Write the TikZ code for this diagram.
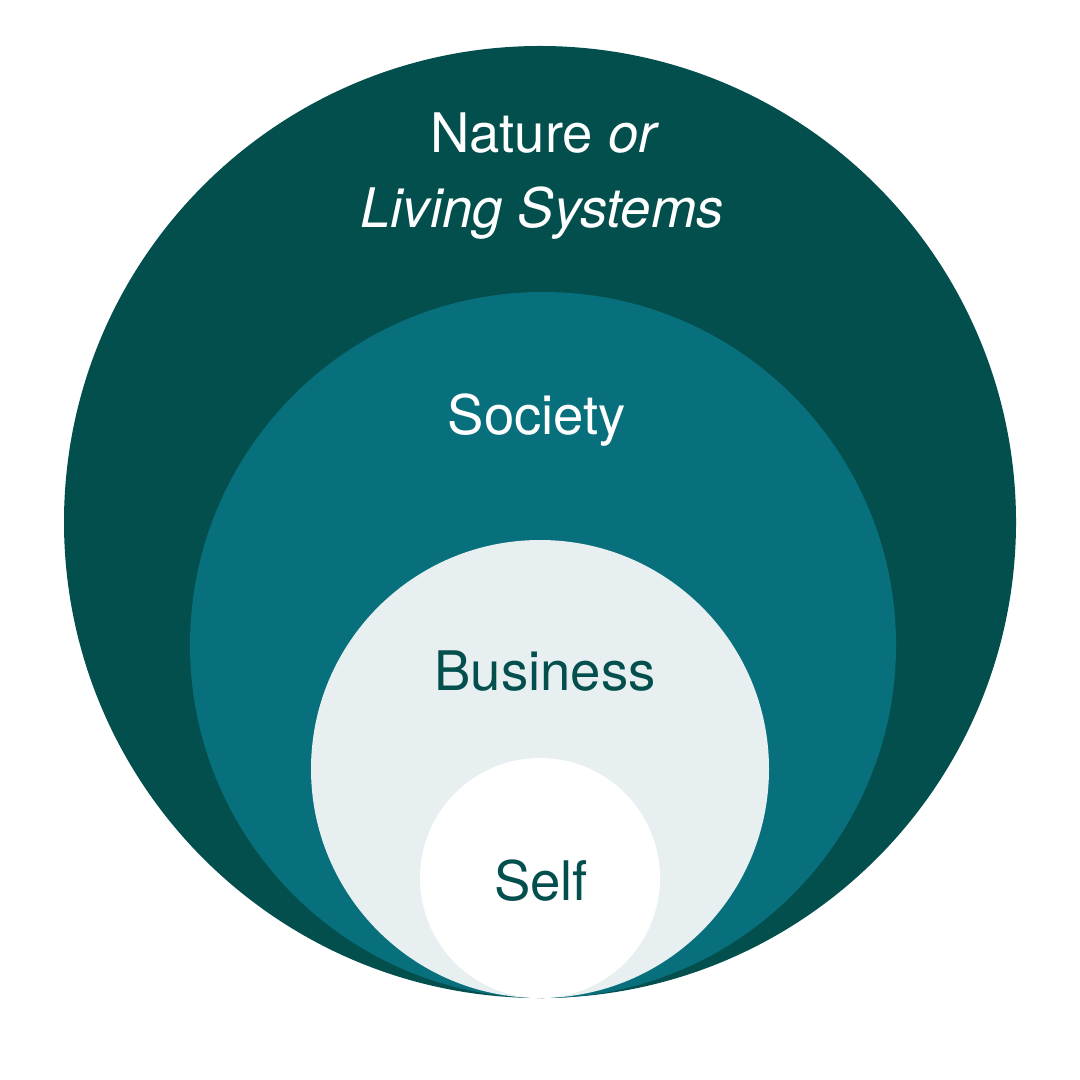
\documentclass[tikz,border=0pt]{standalone}
\usepackage{fontspec}
\setmainfont{TeX Gyre Heros}
\definecolor{naturegreen}{HTML}{024F4D}
\definecolor{societyteal}{HTML}{08707C}
\definecolor{businessgrey}{HTML}{E8EFF1}

\begin{document}
\begin{tikzpicture}
    [x=0.01cm,y=-0.01cm,
    ring label/.style={anchor=base,inner sep=0pt,font=\fontsize{15.5}{21}\selectfont},
    light label/.append style={ring label,text=white},
    dark label/.append style={ring label,text=naturegreen}]
    \useasboundingbox (0,0) rectangle (1080,1080);
    \fill[white] (0,0) rectangle (1080,1080);
    % nested circles, all touching at the bottom
    \fill[naturegreen] (540,522) circle [radius=476];
    \fill[societyteal] (543,645) circle [radius=353];
    \fill[businessgrey] (540,769) circle [radius=229];
    \fill[white] (540,878) circle [radius=120];
    % labels
    \node[light label] (nature) at (545,153) {Nature \textit{or}};
    \node[light label] (living) at (542,228) {\textit{Living Systems}};
    \node[light label] (society) at (537,435) {Society};
    \node[dark label] (business) at (545,690) {Business};
    \node[dark label] (self) at (541,900) {Self};
    
\end{tikzpicture}
\end{document}
